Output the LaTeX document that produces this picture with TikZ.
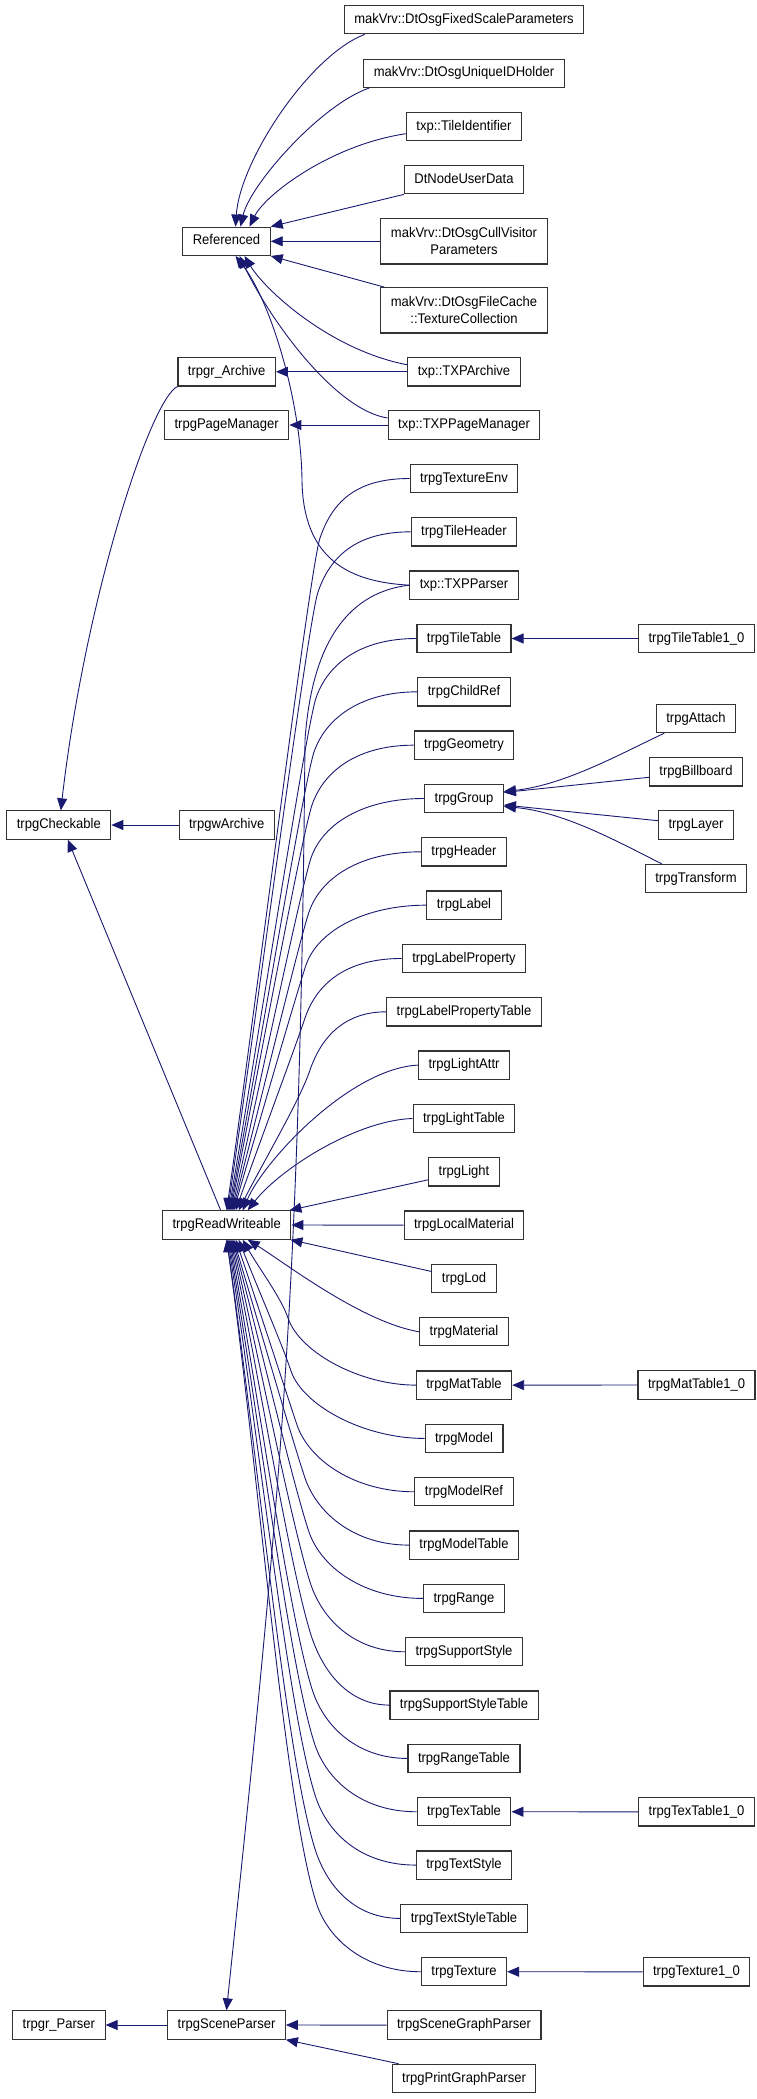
\documentclass[tikz,border=0pt]{standalone}
\usepackage{fontspec}
\setmainfont{Liberation Sans}[FakeStretch=0.93]
\usetikzlibrary{arrows.meta}
\definecolor{Navy}{HTML}{191970}
\definecolor{Frame}{HTML}{333333}

\begin{document}
\begin{tikzpicture}[x=1pt,y=-1pt,
    box/.style={draw=Frame,fill=white,line width=1.1pt,inner xsep=10pt,inner ysep=0pt,font=\fontsize{14}{17}\selectfont},
    cls/.style={box,minimum height=28.3pt,text height=10.2pt,text depth=2.9pt},
    cls2/.style={box,minimum height=45.3pt,align=center},
    edge/.style={draw=Navy,line width=0.9pt,-{Triangle[length=12pt,width=10pt]}}]
  \useasboundingbox (0,0) rectangle (757,2099);
  % top block
  \node[cls] (fixscale) at (464,19.7) {makVrv::DtOsgFixedScaleParameters};
  \node[cls] (uniqueid) at (464,73.3) {makVrv::DtOsgUniqueIDHolder};
  \node[cls] (tileid) at (464,126.7) {txp::TileIdentifier};
  \node[cls] (nodeuser) at (464,179.7) {DtNodeUserData};
  \node[cls2] (cullvis) at (464,241.3) {makVrv::DtOsgCullVisitor\\Parameters};
  \node[cls2] (filecache) at (464,310.3) {makVrv::DtOsgFileCache\\::TextureCollection};
  \node[cls] (txparchive) at (464,371.8) {txp::TXPArchive};
  \node[cls] (txppagemgr) at (464,425) {txp::TXPPageManager};
  % middle and left columns
  \node[cls] (referenced) at (226.5,241.3) {Referenced};
  \node[cls] (archive) at (226.7,371.8) {trpgr\_Archive};
  \node[cls] (pagemgr) at (226.7,425) {trpgPageManager};
  \node[cls] (checkable) at (58.8,825) {trpgCheckable};
  \node[cls] (warchive) at (226.7,825) {trpgwArchive};
  \node[cls] (rw) at (226.7,1225) {trpgReadWriteable};
  \node[cls] (parser) at (58.9,2025) {trpgr\_Parser};
  \node[cls] (sceneparser) at (226.5,2025) {trpgSceneParser};
  % right column
  \foreach \nd/\lbl [count=\i from 0] in {texenv/trpgTextureEnv,tileheader/trpgTileHeader,txpparser/txp::TXPParser,
      tiletable/trpgTileTable,childref/trpgChildRef,geometry/trpgGeometry,group/trpgGroup,header/trpgHeader,
      label/trpgLabel,labelprop/trpgLabelProperty,labelproptable/trpgLabelPropertyTable,lightattr/trpgLightAttr,
      lighttable/trpgLightTable,light/trpgLight,localmat/trpgLocalMaterial,lod/trpgLod,material/trpgMaterial,
      mattable/trpgMatTable,model/trpgModel,modelref/trpgModelRef,modeltable/trpgModelTable,range/trpgRange,
      supportstyle/trpgSupportStyle,supportstyletable/trpgSupportStyleTable,rangetable/trpgRangeTable,
      textable/trpgTexTable,textstyle/trpgTextStyle,textstyletable/trpgTextStyleTable,texture/trpgTexture,
      scenegraph/trpgSceneGraphParser,printgraph/trpgPrintGraphParser}
    \node[cls] (\nd) at (464,478.5+53.33*\i) {\lbl};
  % far right
  \node[cls] (tiletable10) at (696.5,638.5) {trpgTileTable1\_0};
  \node[cls] (attach) at (696,718.5) {trpgAttach};
  \node[cls] (billboard) at (696,771.8) {trpgBillboard};
  \node[cls] (layer) at (696,825) {trpgLayer};
  \node[cls] (transform) at (696,878.5) {trpgTransform};
  \node[cls] (mattable10) at (696.5,1385) {trpgMatTable1\_0};
  \node[cls] (textable10) at (696.5,1811.8) {trpgTexTable1\_0};
  \node[cls] (texture10) at (696.5,1971.8) {trpgTexture1\_0};

  % into Referenced
  \draw[edge] ([xshift=21pt]fixscale.south west) .. controls (310,55) and (240,160) .. ([xshift=9pt]referenced.north);
  \draw[edge] ([xshift=6pt]uniqueid.south west) .. controls (320,105) and (250,185) .. ([xshift=14pt]referenced.north);
  \draw[edge] ([yshift=-7pt]tileid.west) .. controls (330,145) and (265,195) .. ([xshift=23pt]referenced.north);
  \draw[edge] (nodeuser.south west) -- (referenced.north east);
  \draw[edge] (cullvis.west) -- (referenced.east);
  \draw[edge] ([xshift=4pt]filecache.north west) -- (referenced.south east);
  \draw[edge] ([yshift=7pt]txparchive.west) .. controls (330,350) and (265,290) .. ([xshift=18pt]referenced.south);
  \draw[edge] ([yshift=7pt]txppagemgr.west) .. controls (335,410) and (270,320) .. ([xshift=13pt]referenced.south);
  \draw[edge] (txpparser.west) .. controls (350,582) and (303,560) .. (302,480)
    .. controls (301,400) and (270,300) .. ([xshift=9pt]referenced.south);
  \draw[edge] (txparchive.west) -- (archive.east);
  \draw[edge] (txppagemgr.west) -- (pagemgr.east);
  % into trpgCheckable
  \draw[edge] (archive.south west) .. controls (150,400) and (85,600) .. ([xshift=2pt]checkable.north);
  \draw[edge] (warchive.west) -- (checkable.east);
  \draw[edge] ([xshift=-6pt]rw.north) -- ([xshift=9pt]checkable.south);
  % into trpgReadWriteable, from above
  \foreach \nd/\dx/\a/\wx/\wy/\bx/\by in {texenv/0/-55/320/538/33/-236,tileheader/1/-55/318/592/32/-217,
      tiletable/2/-55/316/698/31/-180,childref/3/-55/314/752/30/-161,geometry/4/-55/312/805/28/-142,
      group/5/-60/311/858/28/-124,header/6/-60/309/912/27/-105,label/7/-60/306/965/25/-86,
      labelprop/9/-55/305/1018/24/-68,labelproptable/12/-40/310/1070/25/-49}
    \draw[edge] (\nd.west) .. controls +(\a,0) and +(12,-35) .. (\wx,\wy)
      .. controls +(-10,30) and +(\bx,\by) .. ([xshift=\dx pt]rw.north);
  \draw[edge] (lightattr.west) .. controls +(-67,3) and +(22,-51) .. ([xshift=16pt]rw.north);
  \draw[edge] (lighttable.west) .. controls +(-57,2) and +(32,-41) .. ([xshift=21pt]rw.north);
  \draw[edge] ([yshift=-8pt]light.west) -- ([xshift=-2pt]rw.north east);
  \draw[edge] (localmat.west) -- (rw.east);
  % into trpgReadWriteable, from below
  \draw[edge] ([yshift=7pt]lod.west) -- ([xshift=-1pt]rw.south east);
  \draw[edge] (material.west) .. controls +(-58,-10) and +(37,23) .. ([xshift=21pt]rw.south);
  \foreach \nd/\dx/\a/\wx/\wy/\l/\bx/\by in {mattable/16/-55/288/1318/20/16/28,model/12/-60/291/1371/27/18/46,
      modelref/9/-60/297/1425/34/22/65,modeltable/7/-55/305/1478/41/25/84,range/6/-60/309/1532/48/27/102,
      supportstyle/5/-50/311/1585/55/28/121,supportstyletable/4/-40/312/1638/62/29/140,
      rangetable/3/-50/313/1692/69/29/158,textable/2/-55/315/1745/76/30/177,textstyle/1/-55/316/1798/83/31/196,
      textstyletable/0/-45/316/1852/90/31/214,texture/0/-55/317/1905/96/32/233}
    \draw[edge] (\nd.west) .. controls +(\a,0) and +(12,35) .. (\wx,\wy)
      .. controls +(-\l/3,-\l) and +(\bx,\by) .. ([xshift=\dx pt]rw.south);
  % into trpgGroup
  \draw[edge] ([xshift=8.5pt]attach.south west) .. controls (622,753) and (565,785) .. ([yshift=7pt]group.east);
  \draw[edge] ([yshift=-5.5pt]billboard.west) -- ([yshift=6pt]group.east);
  \draw[edge] ([yshift=4.3pt]layer.west) -- ([yshift=-6.5pt]group.east);
  \draw[edge] ([xshift=17pt]transform.north west) .. controls (620,843) and (565,812) .. ([yshift=-8pt]group.east);
  % table versions
  \draw[edge] (tiletable10.west) -- (tiletable.east);
  \draw[edge] (mattable10.west) -- (mattable.east);
  \draw[edge] (textable10.west) -- (textable.east);
  \draw[edge] (texture10.west) -- (texture.east);
  % parsers
  \draw[edge] (txpparser.west) .. controls (350,592) and (312,640) .. (305,740)
    .. controls (300,1300) and (280,1500) .. (sceneparser.north);
  \draw[edge] (sceneparser.west) -- (parser.east);
  \draw[edge] (scenegraph.west) -- (sceneparser.east);
  \draw[edge] ([xshift=7pt]printgraph.north west) -- (sceneparser.south east);
\end{tikzpicture}
\end{document}
